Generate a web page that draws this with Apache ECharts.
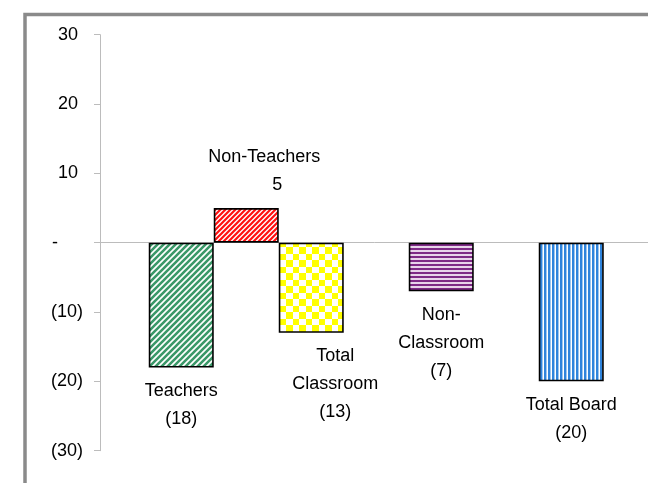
<!DOCTYPE html>
<html><head><meta charset="utf-8">
<script src="https://cdn.jsdelivr.net/npm/echarts@6/dist/echarts.min.js"></script>
<style>html,body{margin:0;padding:0;background:#fff}#c{width:648px;height:483px}</style>
</head><body><div id="c"></div>
<script>
// ---- data ----
const categories = ['Teachers', 'Non-Teachers', 'Total Classroom', 'Non-Classroom', 'Total Board'];
const values = [-18, 5, -13, -7, -20];
const labelNames = ['Teachers', 'Non-Teachers', 'Total\nClassroom', 'Non-\nClassroom', 'Total Board'];
const yMin = -30, yMax = 30, yStep = 10;

// ---- layout (not data) ----
const slotCount = 17;               // narrow category slots along the x axis
const slotIndex = [2, 4, 6, 10, 14]; // which slot each bar sits in
const labelOffsets = [[0, 0], [18, 0], [24, 0], [0, 0], [0, 0]];
const valuePad = [0, 26, 0, 0, 0];

// ---- patterns ----
function makeTile(w, h, draw) {
  const c = document.createElement('canvas'); c.width = w; c.height = h;
  const g = c.getContext('2d'); draw(g, w, h); return c;
}
function diagTile(fg, size, lw) {
  return makeTile(size, size, (g, w, h) => {
    g.fillStyle = '#fff'; g.fillRect(0, 0, w, h);
    g.strokeStyle = fg; g.lineWidth = lw; g.lineCap = 'square';
    g.beginPath();
    g.moveTo(-2, h + 2); g.lineTo(w + 2, -2);
    g.moveTo(-2, 2); g.lineTo(2, -2);
    g.moveTo(w - 2, h + 2); g.lineTo(w + 2, h - 2);
    g.stroke();
  });
}
const tiles = [
  diagTile('#3a9868', 6, 2.6),
  diagTile('#ff1010', 5, 2.2),
  makeTile(13, 13, (g) => { g.fillStyle = '#fff'; g.fillRect(0, 0, 13, 13); g.fillStyle = '#ffff00'; g.fillRect(0, 0, 7, 7); g.fillRect(7, 7, 6, 6); }),
  makeTile(1, 4, (g) => { g.fillStyle = '#e8d4ea'; g.fillRect(0, 0, 1, 4); g.fillStyle = '#7e2a86'; g.fillRect(0, 0, 1, 2); }),
  makeTile(4, 1, (g) => { g.fillStyle = '#ffffff'; g.fillRect(0, 0, 4, 1); g.fillStyle = '#2f84dc'; g.fillRect(0, 0, 2, 1); g.fillStyle = '#9fc6ee'; g.fillRect(2, 0, 1, 1); })
];

function fmtVal(v) { return v < 0 ? '(' + (-v) + ')' : String(v); }
function fmtAxis(v) { return v > 0 ? v + ' ' : (v < 0 ? '(' + (-v) + ')' : '-     '); }

const FONT = "'Liberation Sans', Arial, sans-serif";
const slotNames = Array.from({ length: slotCount }, (_, i) => { const k = slotIndex.indexOf(i); return k >= 0 ? categories[k] : ' ' + i; });
const seriesData = Array.from({ length: slotCount }, () => null);
categories.forEach((name, i) => {
  seriesData[slotIndex[i]] = {
    value: values[i],
    itemStyle: { color: { image: tiles[i], repeat: 'repeat' } },
    label: {
      offset: labelOffsets[i],
      formatter: '{n|' + labelNames[i].split('\n').join('}\n{n|') + '}\n{v|' + fmtVal(values[i]) + '}',
      rich: { n: {}, v: { padding: [0, 0, 0, valuePad[i]] } }
    }
  };
});

const chart = echarts.init(document.getElementById('c'), null, { renderer: 'canvas' });
chart.setOption({
  animation: false,
  backgroundColor: '#fff',
  grid: { left: 100, top: 34.7, height: 416, right: -4.5, containLabel: false, outerBoundsMode: 'none' },
  xAxis: {
    type: 'category', data: slotNames,
    axisLine: { show: true, onZero: true, lineStyle: { color: '#bcbcbc', width: 1 } },
    axisTick: { show: false }, axisLabel: { show: false }, splitLine: { show: false }
  },
  yAxis: {
    type: 'value', min: yMin, max: yMax, interval: yStep,
    axisLine: { show: true, lineStyle: { color: '#bcbcbc', width: 1 } },
    axisTick: { show: true, length: 6, lineStyle: { color: '#bcbcbc' } },
    splitLine: { show: false },
    axisLabel: { formatter: fmtAxis, margin: 17, color: '#000', fontSize: 18, fontFamily: FONT }
  },
  series: [{
    type: 'bar', data: seriesData, barWidth: 65,
    itemStyle: { borderColor: '#000', borderWidth: 1.6 },
    label: {
      show: true, position: 'outside', distance: 9.5,
      color: '#000', fontSize: 18, fontFamily: FONT, lineHeight: 28, align: 'center'
    }
  }],
  graphic: [{
    type: 'rect', silent: true, z: -10,
    shape: { x: 25, y: 14.5, width: 700, height: 600 },
    style: { fill: 'none', stroke: '#8a8a8a', lineWidth: 3.5 }
  }]
});
</script></body></html>
